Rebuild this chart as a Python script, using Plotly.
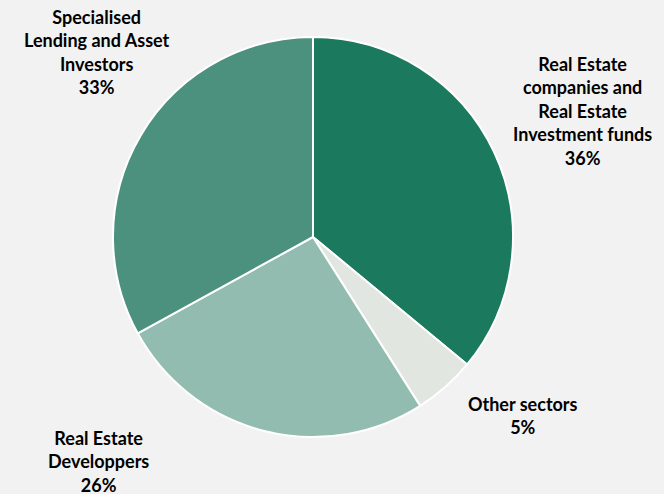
import plotly.graph_objects as go

# sector split, clockwise from 12 o'clock
sectors = [
    "Real Estate companies and Real Estate Investment funds",
    "Other sectors",
    "Real Estate Developpers",
    "Specialised Lending and Asset Investors",
]
shares = [36, 5, 26, 33]
colors = ["#1b7a5e", "#e2e6e0", "#93bcb0", "#4b917e"]

# label text as it wraps on the chart
label_lines = [
    ["Real Estate", "companies and", "Real Estate", "Investment funds"],
    ["Other sectors"],
    ["Real Estate", "Developpers"],
    ["Specialised", "Lending and Asset", "Investors"],
]
# label anchor points (paper coords)
label_pos = [(0.877, 0.775), (0.788, 0.158), (0.148, 0.065), (0.146, 0.895)]

W, H = 664, 494
fig = go.Figure(
    go.Pie(
        labels=sectors,
        values=shares,
        marker=dict(colors=colors, line=dict(color="white", width=2)),
        sort=False,
        direction="clockwise",
        rotation=0,
        textinfo="none",
        hoverinfo="label+percent",
        domain=dict(x=[113 / W, 513 / W], y=[1 - 437 / H, 1 - 37 / H]),
    )
)

for lines, share, (x, y) in zip(label_lines, shares, label_pos):
    fig.add_annotation(
        x=x, y=y, xref="paper", yref="paper",
        text="<br>".join(f"<b>{t}</b>" for t in lines + [f"{share}%"]),
        showarrow=False, align="center",
        xanchor="center", yanchor="middle",
        font=dict(family="Lato", size=18, color="#000000"),
    )

fig.update_layout(
    width=W, height=H,
    margin=dict(l=0, r=0, t=0, b=0),
    paper_bgcolor="#f2f2f2",
    plot_bgcolor="#f2f2f2",
    showlegend=False,
)
fig.write_html(
    "out.html",
    config={"displayModeBar": False},
    post_script="document.body.style.margin='0';",
)
